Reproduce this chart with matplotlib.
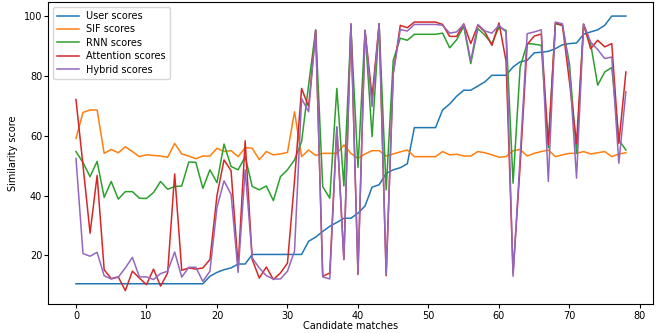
import numpy as np
import matplotlib
matplotlib.use("Agg")
from matplotlib import pyplot as plt

# wartości (79 kandydatów)
user_scores = [10.5] * 19 + [
    13, 14.3, 15.2, 15.8, 17.1, 17.1, 20.3, 20.3, 20.3, 20.3, 20.3, 20.3, 20.3, 20.3,
    24.7, 26.1, 28, 29.7, 31, 32.4, 32.4, 34.1, 36.5, 42.8, 43.6, 47.4, 48.6, 49.3, 50.6,
    62.7, 62.7, 62.7, 62.7, 68.6, 70.6, 73.2, 75.2, 75.2, 76.6, 78, 80.2, 80.2, 80.2,
    83, 84.7, 85.2, 87.7, 87.9, 88.2, 89.1, 90.4, 90.8, 91, 93.9, 94.7, 95.4, 96.9,
    100, 100, 100]

sif_scores = [
    59.1, 67.8, 68.6, 68.6, 54.1, 55.4, 54.3, 56.3, 54.7, 53, 53.6, 53.4, 53.2, 52.8,
    57.4, 53.9, 53.2, 52.3, 53.2, 53.2, 55.8, 54.7, 55, 53, 56, 55.8, 52, 54.7, 53.6,
    53.9, 54.4, 68, 53, 55.2, 53.4, 54.1, 54.1, 54.1, 56.9, 54.1, 52.4, 53.9, 55, 55,
    53.2, 53.9, 54.6, 55.2, 53, 53, 53, 53, 54.7, 53.6, 53.8, 53.2, 53.2, 54.7, 54.3,
    53.6, 52.8, 53, 55, 55.4, 53.2, 54.1, 54.7, 55.2, 53, 53.6, 54.1, 54.1, 54.7, 53.9,
    54.3, 54.7, 53, 53.9, 54.3]

rnn_scores = [
    54.7, 51, 46.3, 51.4, 39.4, 44.7, 38.8, 41.3, 41.3, 39.1, 39, 41, 44.7, 42.1, 43,
    43.2, 51.2, 51.1, 42.4, 48.6, 44.3, 57.2, 49.7, 48.6, 53, 43, 41.9, 43.2, 38.3, 46.3,
    48.6, 51.9, 58, 77, 95.4, 43, 39.1, 75.8, 43.2, 96, 49.4, 95.2, 59.7, 97.4, 41.9,
    85.2, 92.6, 91.9, 93.9, 93.9, 93.9, 93.9, 94.3, 89.4, 92.1, 96.6, 84.1, 95.8, 93.6,
    90.8, 96.3, 95.2, 44.1, 83, 90.8, 90.6, 90.2, 56, 97.4, 96.9, 84, 54.1, 97.2, 90.8,
    76.9, 81.3, 82.8, 58.6, 55.2]

attention_scores = [
    72.1, 50, 27.4, 46.7, 15.2, 12.2, 12.8, 8.2, 14.7, 12.4, 10.2, 15.4, 9.7, 14.1, 47.2,
    15, 15.8, 15.4, 15.8, 18.6, 40, 51.9, 48.3, 16.3, 58.3, 18.6, 12.4, 16.1, 11.9, 14.1,
    17.4, 45, 75.8, 69.7, 95.2, 13, 14.1, 62.8, 18.6, 97.4, 13.6, 95.2, 73, 97.4, 13.2,
    80.8, 96.9, 96.1, 98, 98, 98, 98, 97.2, 93.2, 93.2, 97.4, 90.8, 96.9, 94.7, 90.2,
    97.7, 85, 14, 50, 90.5, 93.3, 94, 57, 97.7, 96.9, 78, 57.4, 97.2, 89.1, 91.9, 89.7,
    90.8, 57.4, 81.3]

hybrid_scores = [
    52.4, 20.6, 19.7, 21, 13.2, 12.1, 12.7, 15.8, 19.3, 12.8, 12.8, 11.9, 13.9, 14.7, 21.1,
    12.7, 16, 16, 11.3, 14.7, 36, 44.9, 40.4, 14.3, 48.6, 19.1, 15.8, 13.2, 12.1, 12.1,
    14.7, 21.4, 72.4, 68, 95.2, 12.8, 12.1, 63, 18.6, 97.4, 14.1, 95.2, 69.7, 97.4, 13.6,
    80.8, 95.5, 95, 97.2, 97.2, 97.2, 97.2, 96.9, 94.3, 94.7, 97.2, 85, 97.2, 95, 94.3,
    96.9, 94.7, 13, 53, 94.1, 94.7, 95.4, 44.7, 98, 97.4, 82, 45.8, 97.4, 91.3, 88.8,
    85.8, 86.3, 50.8, 74.7]

series = [("User scores", user_scores), ("SIF scores", sif_scores),
          ("RNN scores", rnn_scores), ("Attention scores", attention_scores),
          ("Hybrid scores", hybrid_scores)]

fig = plt.figure(figsize=(6.64, 3.33), dpi=100)
ax = fig.add_axes([0.073, 0.086, 0.911, 0.907])
for name, vals in series:
    ax.plot(np.arange(len(vals)), vals, label=name, lw=1.1)

ax.set_xlabel("Candidate matches", fontsize=7, labelpad=0.5)
ax.set_ylabel("Similarity score", fontsize=7, labelpad=4)
ax.tick_params(labelsize=7, length=3, pad=1.5)
ax.legend(loc="upper left", fontsize=7, handlelength=2.2, labelspacing=0.35, borderpad=0.4)

fig.savefig("out.png", dpi=100)
